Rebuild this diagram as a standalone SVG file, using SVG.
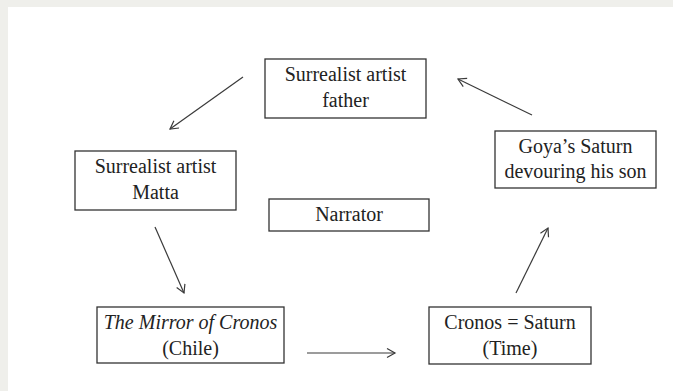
<svg xmlns="http://www.w3.org/2000/svg" width="673" height="391" viewBox="0 0 673 391">
<style>
.box{fill:#fff;stroke:#333;stroke-width:1.3}
.t{font-family:"Liberation Serif","Times New Roman",serif;font-size:20px;fill:#222;text-anchor:middle}
.it{font-style:italic}
.conn line{stroke:#3a3a3a;stroke-width:1.2;marker-end:url(#arr)}
</style>
<defs>
<marker id="arr" markerWidth="12" markerHeight="12" refX="9" refY="5" orient="auto" markerUnits="userSpaceOnUse">
<path d="M1,0.5 L9,5 L1,9.5" fill="none" stroke="#3a3a3a" stroke-width="1.2"/>
</marker>
</defs>
<rect x="0" y="0" width="673" height="391" fill="#fff"/>
<rect x="0" y="0" width="673" height="7" fill="#efefeb"/>
<rect x="0" y="0" width="8" height="391" fill="#efefeb"/>
<g id="father">
<rect class="box" x="265" y="59" width="161" height="59"/>
<text class="t" x="345.5" y="81">Surrealist artist</text>
<text class="t" x="345.5" y="107">father</text>
</g>
<g id="matta">
<rect class="box" x="75" y="151" width="161" height="59"/>
<text class="t" x="155.5" y="173">Surrealist artist</text>
<text class="t" x="155.5" y="199">Matta</text>
</g>
<g id="narrator">
<rect class="box" x="269" y="199" width="160" height="32"/>
<text class="t" x="349" y="221">Narrator</text>
</g>
<g id="goya">
<rect class="box" x="495" y="131" width="161" height="57"/>
<text class="t" x="575.5" y="153">Goya’s Saturn</text>
<text class="t" x="575.5" y="178">devouring his son</text>
</g>
<g id="mirror">
<rect class="box" x="97" y="307" width="187" height="56"/>
<text class="t it" x="190.5" y="329">The Mirror of Cronos</text>
<text class="t" x="190.5" y="355">(Chile)</text>
</g>
<g id="cronos">
<rect class="box" x="429" y="307" width="162" height="57"/>
<text class="t" x="510" y="329">Cronos = Saturn</text>
<text class="t" x="510" y="355">(Time)</text>
</g>
<g id="connectors" class="conn">
<line x1="243" y1="77" x2="170" y2="129"/>
<line x1="532" y1="115" x2="458" y2="79"/>
<line x1="155" y1="227" x2="184" y2="293"/>
<line x1="307" y1="353" x2="395" y2="353"/>
<line x1="516" y1="293" x2="548" y2="228"/>
</g>
</svg>
